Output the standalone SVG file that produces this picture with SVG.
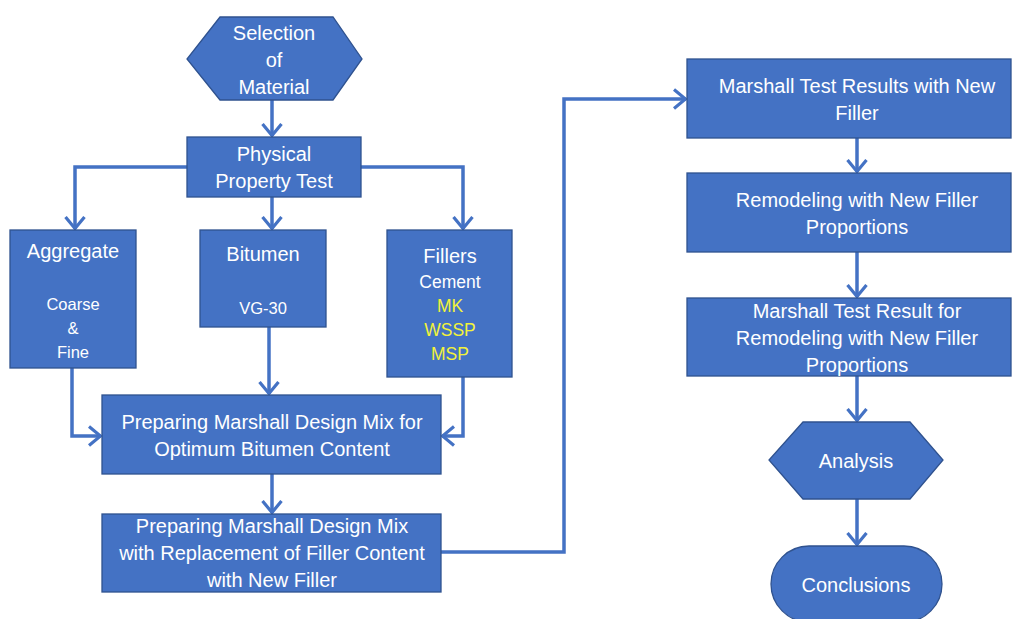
<svg xmlns="http://www.w3.org/2000/svg" width="1016" height="619" viewBox="0 0 1016 619">
<defs>
<style>
.n{fill:#4472C4;stroke:#2F528F;stroke-width:1.3}
.t{font-family:"Liberation Sans",Arial,sans-serif;fill:#ffffff;font-size:20px;text-anchor:middle;dominant-baseline:central}
.s{font-size:16.5px}
.f{font-size:17.5px}
.y{fill:#F2F23A}
.c{fill:none;stroke:#4472C4;stroke-width:3.5}
</style>
<marker id="ah" markerUnits="userSpaceOnUse" viewBox="0 0 14 22" refX="13" refY="11" markerWidth="14" markerHeight="22" orient="auto">
<path d="M1,1.5 L12.5,11 L1,20.5" fill="none" stroke="#4472C4" stroke-width="3.2"/>
</marker>
</defs>
<rect width="1016" height="619" fill="#ffffff"/>
<g id="connectors">
<path class="c" d="M272,100 V136" marker-end="url(#ah)"/>
<path class="c" d="M187,167 H75 V229" marker-end="url(#ah)"/>
<path class="c" d="M272,197 V229" marker-end="url(#ah)"/>
<path class="c" d="M361,167 H463 V229" marker-end="url(#ah)"/>
<path class="c" d="M72,368 V436 H101" marker-end="url(#ah)"/>
<path class="c" d="M269,327 V394" marker-end="url(#ah)"/>
<path class="c" d="M463,377 V436 H442" marker-end="url(#ah)"/>
<path class="c" d="M272,474 V513" marker-end="url(#ah)"/>
<path class="c" d="M441,552 H564 V99 H686" marker-end="url(#ah)"/>
<path class="c" d="M857,138 V172" marker-end="url(#ah)"/>
<path class="c" d="M857,252 V297" marker-end="url(#ah)"/>
<path class="c" d="M857,376 V421" marker-end="url(#ah)"/>
<path class="c" d="M857,499 V545" marker-end="url(#ah)"/>
</g>
<g id="selection">
<polygon class="n" points="220,17 333,17 362,59 333,100 220,100 187,59"/>
<text class="t" x="274" y="33">Selection</text>
<text class="t" x="274" y="60">of</text>
<text class="t" x="274" y="87">Material</text>
</g>
<g id="physical">
<rect class="n" x="187" y="137" width="174" height="60"/>
<text class="t" x="274" y="154">Physical</text>
<text class="t" x="274" y="181">Property Test</text>
</g>
<g id="aggregate">
<rect class="n" x="10" y="230" width="126" height="138"/>
<text class="t" x="73" y="251">Aggregate</text>
<text class="t s" x="73" y="304">Coarse</text>
<text class="t s" x="73" y="328">&amp;</text>
<text class="t s" x="73" y="352">Fine</text>
</g>
<g id="bitumen">
<rect class="n" x="200" y="230" width="126" height="97"/>
<text class="t" x="263" y="254">Bitumen</text>
<text class="t s" x="263" y="308">VG-30</text>
</g>
<g id="fillers">
<rect class="n" x="387" y="230" width="125" height="147"/>
<text class="t" x="450" y="256">Fillers</text>
<text class="t f" x="450" y="282">Cement</text>
<text class="t f y" x="450" y="306">MK</text>
<text class="t f y" x="450" y="330">WSSP</text>
<text class="t f y" x="450" y="354">MSP</text>
</g>
<g id="prep1">
<rect class="n" x="102" y="395" width="339" height="79"/>
<text class="t" x="272" y="422">Preparing Marshall Design Mix for</text>
<text class="t" x="272" y="449">Optimum Bitumen Content</text>
</g>
<g id="prep2">
<rect class="n" x="102" y="514" width="339" height="78"/>
<text class="t" x="272" y="526">Preparing Marshall Design Mix</text>
<text class="t" x="272" y="553">with Replacement of Filler Content</text>
<text class="t" x="272" y="580">with New Filler</text>
</g>
<g id="results">
<rect class="n" x="687" y="59" width="324" height="79"/>
<text class="t" x="857" y="86">Marshall Test Results with New</text>
<text class="t" x="857" y="113">Filler</text>
</g>
<g id="remodeling">
<rect class="n" x="687" y="173" width="324" height="79"/>
<text class="t" x="857" y="200">Remodeling with New Filler</text>
<text class="t" x="857" y="227">Proportions</text>
</g>
<g id="remodel-results">
<rect class="n" x="687" y="298" width="324" height="78"/>
<text class="t" x="857" y="311">Marshall Test Result for</text>
<text class="t" x="857" y="338">Remodeling with New Filler</text>
<text class="t" x="857" y="365">Proportions</text>
</g>
<g id="analysis">
<polygon class="n" points="803,422 910,422 943,460 910,499 803,499 769,460"/>
<text class="t" x="856" y="461">Analysis</text>
</g>
<g id="conclusions">
<rect class="n" x="771" y="546" width="171" height="76" rx="38" ry="38"/>
<text class="t" x="856" y="585">Conclusions</text>
</g>
</svg>
